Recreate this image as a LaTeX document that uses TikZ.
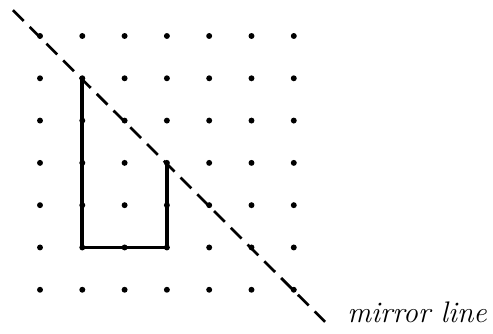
\documentclass[tikz,border=0pt]{standalone}
\begin{document}
\begin{tikzpicture}[x=1cm,y=1cm,
  griddot/.style={fill=black,circle,inner sep=0pt,minimum size=4pt},
  mirror/.style={line width=1.8pt,dash pattern=on 0.36cm off 0.2cm},
  shapeline/.style={line width=2.6pt,line cap=butt,line join=miter}]
\useasboundingbox (-0.946,0.851) rectangle (10.71,-7.045);
\foreach \i in {0,...,6}{
  \foreach \j in {0,...,6}{
    \node[griddot] (d\i\j) at (\i,-\j) {};
  }
}
\coordinate (ms) at (-0.64,0.61);
\coordinate (me) at (6.74,-6.76);
\draw[mirror] (ms) -- (me);
\draw[shapeline] (d11.center) -- (d15.center) -- (d35.center) -- (d33.center);
\node[anchor=base west,inner sep=0pt,font=\fontsize{20}{23}\selectfont\itshape] (lbl) at (7.26,-6.78) {mirror line};
\end{tikzpicture}
\end{document}
